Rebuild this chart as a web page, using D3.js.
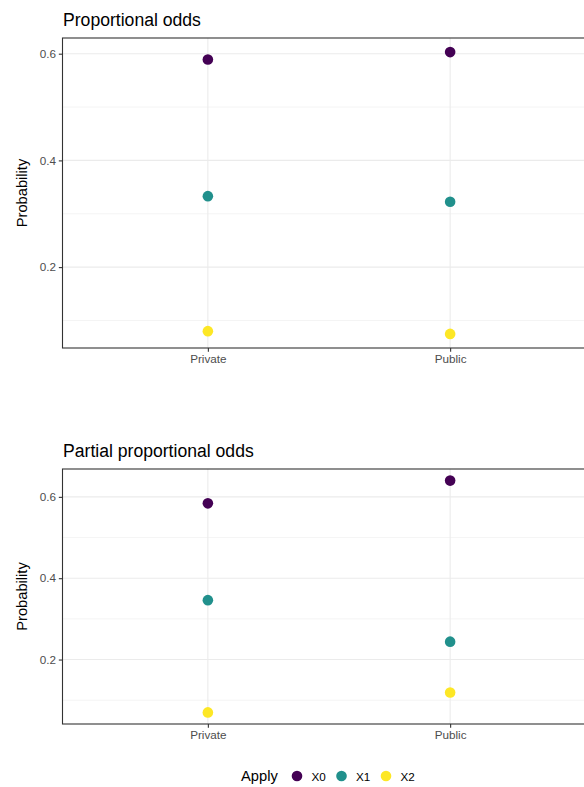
<!DOCTYPE html>
<html><head><meta charset="utf-8">
<script src="https://cdn.jsdelivr.net/npm/d3@7"></script>
<style>body{margin:0;background:#fff}svg{display:block;font-family:"Liberation Sans",Arial,sans-serif}</style>
</head><body>
<svg id="c" width="584" height="787"></svg>
<script>
const categories = ["Private", "Public"];
const seriesNames = ["X0", "X1", "X2"];
const colors = ["#440154", "#21908C", "#FDE725"];
const propOdds = {X0: [0.589, 0.603], X1: [0.333, 0.3224], X2: [0.080, 0.0748]};
const partialOdds = {X0: [0.584, 0.640], X1: [0.346, 0.244], X2: [0.070, 0.119]};
const yTicks = [0.2, 0.4, 0.6];
const yMinor = [0.1, 0.3, 0.5];
const panels = [
  {title: "Proportional odds", data: propOdds, top: 38, bottom: 348, titleY: 26},
  {title: "Partial proportional odds", data: partialOdds, top: 469, bottom: 724, titleY: 456.5}
];

const svg = d3.select("#c");
const left = 62.5, right = 595.5;

panels.forEach(p => {
  const vals = seriesNames.flatMap(s => p.data[s]);
  const [mn, mx] = d3.extent(vals);
  const pad = (mx - mn) * 0.05;
  const y = d3.scaleLinear().domain([mn - pad, mx + pad]).range([p.bottom, p.top]);
  const x = d3.scalePoint().domain(categories).range([left, right]).padding(0.6);
  const g = svg.append("g");
  g.selectAll(".mn").data(yMinor.filter(v => v > y.domain()[0] && v < y.domain()[1])).join("line")
    .attr("x1", left).attr("x2", right).attr("y1", d => y(d)).attr("y2", d => y(d))
    .attr("stroke", "#ebebeb").attr("stroke-width", 0.55);
  g.selectAll(".mj").data(yTicks).join("line")
    .attr("x1", left).attr("x2", right).attr("y1", d => y(d)).attr("y2", d => y(d))
    .attr("stroke", "#ebebeb").attr("stroke-width", 1.1);
  g.selectAll(".vx").data(categories).join("line")
    .attr("x1", d => x(d)).attr("x2", d => x(d)).attr("y1", p.top).attr("y2", p.bottom)
    .attr("stroke", "#ebebeb").attr("stroke-width", 1.1);
  seriesNames.forEach((s, i) => {
    g.selectAll(".pt" + s).data(categories).join("circle")
      .attr("cx", d => x(d)).attr("cy", (d, j) => y(p.data[s][j])).attr("r", 5.3)
      .attr("fill", colors[i]);
  });
  g.append("rect").attr("x", left).attr("y", p.top).attr("width", right - left).attr("height", p.bottom - p.top)
    .attr("fill", "none").attr("stroke", "#333333").attr("stroke-width", 1.1);
  const ya = d3.axisLeft(y).tickValues(yTicks).tickSize(3.67).tickPadding(2.9).tickFormat(d3.format(".1f"));
  const yg = g.append("g").attr("transform", `translate(${left},0)`).call(ya);
  const xa = d3.axisBottom(x).tickSize(3.67).tickPadding(2.9);
  const xg = g.append("g").attr("transform", `translate(0,${p.bottom})`).call(xa);
  [yg, xg].forEach(a => {
    a.select(".domain").remove();
    a.selectAll(".tick line").attr("stroke", "#333333").attr("stroke-width", 1.1);
    a.selectAll(".tick text").attr("fill", "#4d4d4d").style("font-size", "11.7px").style("font-family", "Liberation Sans, Arial, sans-serif");
  });
  g.append("text").attr("x", 63).attr("y", p.titleY).text(p.title)
    .style("font-size", "17.6px").attr("fill", "#000");
  g.append("text").attr("transform", `translate(26.5,${(p.top + p.bottom) / 2}) rotate(-90)`)
    .attr("text-anchor", "middle").text("Probability").style("font-size", "14.7px");
});

const lg = svg.append("g");
lg.append("text").attr("x", 241).attr("y", 781).text("Apply").style("font-size", "14.7px");
const lx = [297, 341.5, 386];
seriesNames.forEach((s, i) => {
  lg.append("circle").attr("cx", lx[i]).attr("cy", 776).attr("r", 5.3).attr("fill", colors[i]);
  lg.append("text").attr("x", lx[i] + 14.5).attr("y", 780.5).text(s).style("font-size", "11.7px");
});
</script>
</body></html>
